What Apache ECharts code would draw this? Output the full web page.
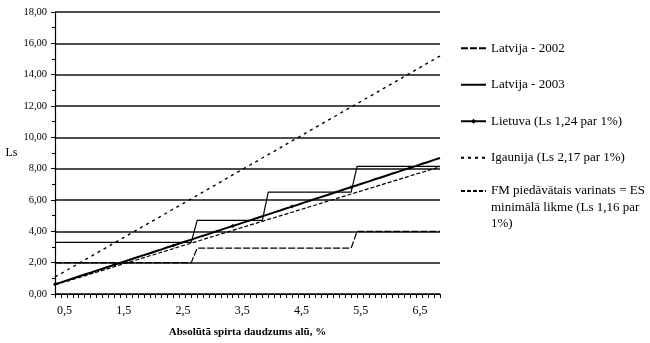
<!DOCTYPE html>
<html>
<head>
<meta charset="utf-8">
<script src="https://cdn.jsdelivr.net/npm/echarts@6/dist/echarts.min.js"></script>
<style>
  html, body { margin: 0; padding: 0; background: #fff; }
  #chart { width: 650px; height: 343px; }
</style>
</head>
<body>
<div id="chart"></div>
<script>
// Absolute alcohol content of beer, % (every 0.1 %)
const alcohol = [
  0.5, 0.6, 0.7, 0.8, 0.9, 1.0, 1.1, 1.2, 1.3, 1.4,
  1.5, 1.6, 1.7, 1.8, 1.9, 2.0, 2.1, 2.2, 2.3, 2.4,
  2.5, 2.6, 2.7, 2.8, 2.9, 3.0, 3.1, 3.2, 3.3, 3.4,
  3.5, 3.6, 3.7, 3.8, 3.9, 4.0, 4.1, 4.2, 4.3, 4.4,
  4.5, 4.6, 4.7, 4.8, 4.9, 5.0, 5.1, 5.2, 5.3, 5.4,
  5.5, 5.6, 5.7, 5.8, 5.9, 6.0, 6.1, 6.2, 6.3, 6.4,
  6.5, 6.6, 6.7, 6.8, 6.9, 7.0
];

// Excise, Ls
const latvija2002 = [
  2.00, 2.00, 2.00, 2.00, 2.00, 2.00, 2.00, 2.00, 2.00, 2.00,
  2.00, 2.00, 2.00, 2.00, 2.00, 2.00, 2.00, 2.00, 2.00, 2.00,
  2.00, 2.00, 2.00, 2.00, 2.93, 2.93, 2.93, 2.93, 2.93, 2.93,
  2.93, 2.93, 2.93, 2.93, 2.93, 2.93, 2.93, 2.93, 2.93, 2.93,
  2.93, 2.93, 2.93, 2.93, 2.93, 2.93, 2.93, 2.93, 2.93, 2.93,
  2.93, 4.00, 4.00, 4.00, 4.00, 4.00, 4.00, 4.00, 4.00, 4.00,
  4.00, 4.00, 4.00, 4.00, 4.00, 4.00
];

const latvija2003 = [
  3.30, 3.30, 3.30, 3.30, 3.30, 3.30, 3.30, 3.30, 3.30, 3.30,
  3.30, 3.30, 3.30, 3.30, 3.30, 3.30, 3.30, 3.30, 3.30, 3.30,
  3.30, 3.30, 3.30, 3.30, 4.70, 4.70, 4.70, 4.70, 4.70, 4.70,
  4.70, 4.70, 4.70, 4.70, 4.70, 4.70, 6.50, 6.50, 6.50, 6.50,
  6.50, 6.50, 6.50, 6.50, 6.50, 6.50, 6.50, 6.50, 6.50, 6.50,
  6.50, 8.15, 8.15, 8.15, 8.15, 8.15, 8.15, 8.15, 8.15, 8.15,
  8.15, 8.15, 8.15, 8.15, 8.15, 8.15
];

const lietuva = [
  0.62, 0.74, 0.87, 0.99, 1.12, 1.24, 1.36, 1.49, 1.61, 1.74,
  1.86, 1.98, 2.11, 2.23, 2.36, 2.48, 2.60, 2.73, 2.85, 2.98,
  3.10, 3.22, 3.35, 3.47, 3.60, 3.72, 3.84, 3.97, 4.09, 4.22,
  4.34, 4.46, 4.59, 4.71, 4.84, 4.96, 5.08, 5.21, 5.33, 5.46,
  5.58, 5.70, 5.83, 5.95, 6.08, 6.20, 6.32, 6.45, 6.57, 6.70,
  6.82, 6.94, 7.07, 7.19, 7.32, 7.44, 7.56, 7.69, 7.81, 7.94,
  8.06, 8.18, 8.31, 8.43, 8.56, 8.68
];

const igaunija = [
  1.09, 1.30, 1.52, 1.74, 1.95, 2.17, 2.39, 2.60, 2.82, 3.04,
  3.26, 3.47, 3.69, 3.91, 4.12, 4.34, 4.56, 4.77, 4.99, 5.21,
  5.43, 5.64, 5.86, 6.08, 6.29, 6.51, 6.73, 6.94, 7.16, 7.38,
  7.60, 7.81, 8.03, 8.25, 8.46, 8.68, 8.90, 9.11, 9.33, 9.55,
  9.77, 9.98, 10.20, 10.42, 10.63, 10.85, 11.07, 11.28, 11.50, 11.72,
  11.94, 12.15, 12.37, 12.59, 12.80, 13.02, 13.24, 13.45, 13.67, 13.89,
  14.11, 14.32, 14.54, 14.76, 14.97, 15.19
];

const fmVariants = [
  0.58, 0.70, 0.81, 0.93, 1.04, 1.16, 1.28, 1.39, 1.51, 1.62,
  1.74, 1.86, 1.97, 2.09, 2.20, 2.32, 2.44, 2.55, 2.67, 2.78,
  2.90, 3.02, 3.13, 3.25, 3.36, 3.48, 3.60, 3.71, 3.83, 3.94,
  4.06, 4.18, 4.29, 4.41, 4.52, 4.64, 4.76, 4.87, 4.99, 5.10,
  5.22, 5.34, 5.45, 5.57, 5.68, 5.80, 5.92, 6.03, 6.15, 6.26,
  6.38, 6.50, 6.61, 6.73, 6.84, 6.96, 7.08, 7.19, 7.31, 7.42,
  7.54, 7.66, 7.77, 7.89, 8.00, 8.12
];

const seriesNames = [
  'Latvija - 2002',
  'Latvija - 2003',
  'Lietuva (Ls 1,24 par 1%)',
  'Igaunija (Ls 2,17 par 1%)',
  'FM piedāvātais varinats = ES minimālā likme (Ls 1,16 par 1%)'
];
// The long entry wraps onto three lines; two empty lines above keep
// its first line level with the legend sample line.
const fmLegendText = '\n\nFM piedāvātais varinats = ES\nminimālā likme (Ls 1,16 par\n1%)';

const FONT = '"Liberation Serif", "DejaVu Serif", serif';
const INK = '#000';
const LEGEND_LINE = 16.5;

const legendCommon = {
  orient: 'vertical',
  left: 460,
  padding: 0,
  itemWidth: 25,
  itemHeight: 6,
  itemGap: 20,
  itemStyle: { opacity: 0 },
  textStyle: { fontFamily: FONT, fontSize: 13, color: INK, lineHeight: LEGEND_LINE }
};

const chart = echarts.init(document.getElementById('chart'), null, { renderer: 'canvas' });

chart.setOption({
  backgroundColor: '#fff',
  animation: false,
  textStyle: { fontFamily: FONT, color: INK },
  grid: { left: 55, right: 210, top: 12, bottom: 48, containLabel: false },
  legend: [
    Object.assign({}, legendCommon, {
      top: 40,
      data: [
        { name: seriesNames[0] },
        { name: seriesNames[1] },
        { name: seriesNames[2], itemStyle: { opacity: 1 } },
        { name: seriesNames[3] }
      ]
    }),
    Object.assign({}, legendCommon, {
      top: 191 - LEGEND_LINE * 2.5,
      data: [{ name: seriesNames[4] }],
      formatter: () => fmLegendText
    })
  ],
  xAxis: {
    type: 'category',
    data: alcohol,
    boundaryGap: false,
    name: 'Absolūtā spirta daudzums alū, %',
    nameLocation: 'middle',
    nameGap: 33,
    nameTextStyle: { fontFamily: FONT, fontSize: 11, fontWeight: 'bold', color: INK },
    axisLine: { lineStyle: { color: INK, width: 1.2 } },
    axisTick: { show: true, interval: 0, length: 4, lineStyle: { color: INK, width: 1 } },
    axisLabel: {
      interval: idx => idx % 10 === 0,
      formatter: v => Number(v).toFixed(1).replace('.', ','),
      fontFamily: FONT,
      fontSize: 12,
      color: INK,
      margin: 11,
      align: 'left',
      padding: [0, 0, 0, 2]
    },
    splitLine: { show: false }
  },
  yAxis: {
    type: 'value',
    min: 0,
    max: 18,
    interval: 2,
    name: 'Ls',
    nameLocation: 'middle',
    nameRotate: 0,
    nameGap: 35,
    nameTextStyle: { fontFamily: FONT, fontSize: 12, color: INK },
    axisLine: { show: true, lineStyle: { color: INK, width: 1.2 } },
    axisTick: { show: true, length: 4, lineStyle: { color: INK, width: 1 } },
    minorTick: { show: true, splitNumber: 2, length: 3, lineStyle: { color: INK, width: 1 } },
    axisLabel: {
      formatter: v => v.toFixed(2).replace('.', ','),
      fontFamily: FONT,
      fontSize: 10.5,
      color: INK,
      margin: 8
    },
    splitLine: { show: true, lineStyle: { color: '#111', width: 1.5 } }
  },
  series: [
    {
      name: seriesNames[0],
      type: 'line',
      data: latvija2002,
      symbol: 'none',
      lineStyle: { color: INK, width: 1.2, type: [7, 2] },
      itemStyle: { color: INK },
      z: 3
    },
    {
      name: seriesNames[1],
      type: 'line',
      data: latvija2003,
      symbol: 'none',
      lineStyle: { color: INK, width: 1.2 },
      itemStyle: { color: INK },
      z: 3
    },
    {
      name: seriesNames[2],
      type: 'line',
      data: lietuva,
      symbol: 'diamond',
      symbolSize: 4,
      showSymbol: true,
      lineStyle: { color: INK, width: 2 },
      itemStyle: { color: INK, borderWidth: 0 },
      z: 4
    },
    {
      name: seriesNames[3],
      type: 'line',
      data: igaunija,
      symbol: 'none',
      lineStyle: { color: INK, width: 1.4, type: [3, 4] },
      itemStyle: { color: INK },
      z: 4
    },
    {
      name: seriesNames[4],
      type: 'line',
      data: fmVariants,
      symbol: 'none',
      lineStyle: { color: INK, width: 1.2, type: [4, 2] },
      itemStyle: { color: INK },
      z: 4
    }
  ]
});
</script>
</body>
</html>
